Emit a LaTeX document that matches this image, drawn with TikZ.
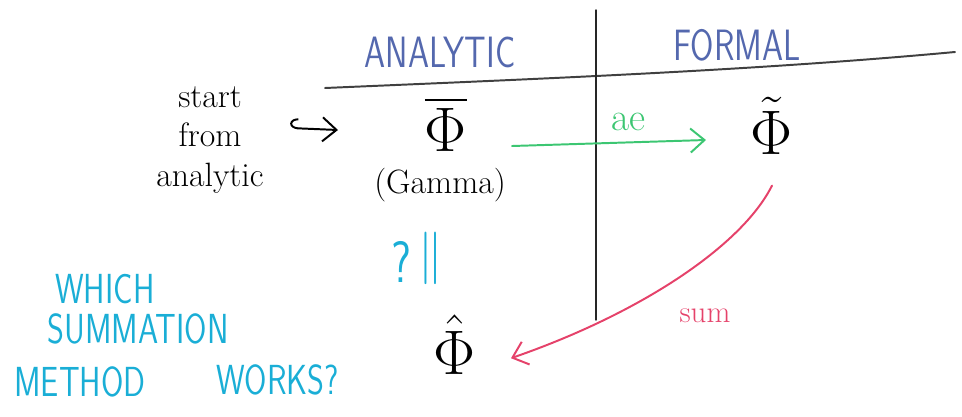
\documentclass[tikz,border=0pt]{standalone}
\usepackage{amsmath}
\usepackage{graphicx}
\usetikzlibrary{arrows.meta}
\definecolor{headblue}{HTML}{5468AE}
\definecolor{aegreen}{HTML}{3CC672}
\definecolor{sumred}{HTML}{E5426A}
\definecolor{askcyan}{HTML}{1AAED6}
\newcommand\tallcaps[1]{\scalebox{1}[1.3]{#1}}
\newcommand\bigsym[1]{\scalebox{1.8}{$#1$}}
\begin{document}
\begin{tikzpicture}[x=0.025cm,y=-0.025cm,
  ink/.style={font=\fontsize{24}{28}\selectfont},
  head/.style={text=headblue,font=\sffamily\fontsize{24}{28}\selectfont},
  ask/.style={text=askcyan,inner sep=1pt,font=\sffamily\fontsize{23}{28}\selectfont},
  sym/.style={font=\fontsize{24}{28}\selectfont},
  pen/.style={line width=1.4pt,line cap=round},
  >={Straight Barb[length=3.5mm,width=6mm]}]
\useasboundingbox (0,0) rectangle (962,416);
% table frame
\draw[pen,black!75] (325,88) .. controls (560,78) and (760,70) .. (955,52);
\draw[pen,black!85,line width=1pt] (596,10) -- (596,320);
\node[head] (analytic) at (440,52) {\tallcaps{ANALYTIC}};
\node[head] (formal) at (737,45) {\tallcaps{FORMAL}};
% left column
\node[ink,align=center] (start) at (210,140) {start\\from\\analytic};
\coordinate (hookin) at (290,128);
\coordinate (hookout) at (338,130);
\draw[pen,{Hooks[right,length=2mm,width=5mm]}->] (hookin) -- (hookout);
\node[sym] (phibar) at (446,124) {\bigsym{\overline{\Phi}}};
\node[ink] (gamma) at (440,185) {(Gamma)};
\node[sym] (phitilde) at (772,126) {\bigsym{\tilde{\Phi}}};
\node[sym] (phihat) at (455,345) {\bigsym{\hat{\Phi}}};
% transforms
\draw[pen,aegreen,->] ([xshift=1.0cm,yshift=-0.55cm]phibar.east) -- ([xshift=-1.0cm,yshift=-0.35cm]phitilde.west)
  node[pos=0.6,above=4pt,font=\fontsize{28}{30}\selectfont] (ae) {ae};
\draw[pen,sumred,->] ([yshift=-0.65cm]phitilde.south) .. controls +(-30,60) and +(130,-45) .. ([xshift=0.75cm,yshift=-0.33cm]phihat.east);
\node[text=sumred,font=\fontsize{22}{24}\selectfont] (sum) at (705,316) {sum};
% question
\node[ask,font=\sffamily\fontsize{32}{36}\selectfont] (q) at (401,262) {\tallcaps{?}};
\node[ask,font=\fontsize{24}{28}\selectfont] (eq) at (431,258) {\scalebox{1.4}[1.5]{$\|$}};
\node[ask] (which) at (105,289) {\tallcaps{WHICH}};
\node[ask] (summation) at (138,329) {\tallcaps{SUMMATION}};
\node[ask] (method) at (80,382) {\tallcaps{METHOD}};
\node[ask] (works) at (278,380) {\tallcaps{WORKS?}};
\end{tikzpicture}
\end{document}
